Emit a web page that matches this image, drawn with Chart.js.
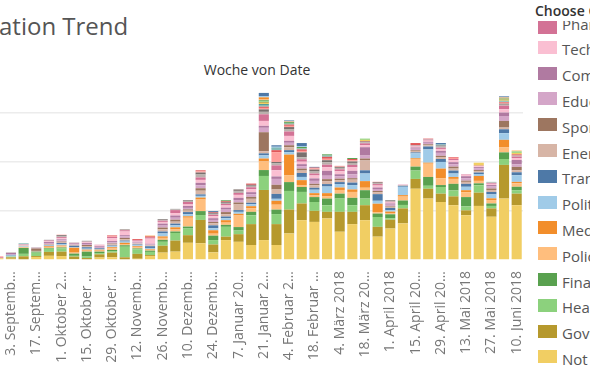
<!DOCTYPE html>
<html>
<head>
<meta charset="utf-8">
<script src="https://cdn.jsdelivr.net/npm/chart.js@4"></script>
<style>
  html, body { margin: 0; padding: 0; width: 590px; height: 369px; overflow: hidden; background: #fff; font-family: "Open Sans", sans-serif; }
  #title { position: absolute; left: -1px; top: 14px; font-size: 24px; line-height: 24px; color: #555; white-space: nowrap; }
  #header { position: absolute; left: 157px; width: 200px; text-align: center; top: 63px; font-size: 14px; line-height: 14px; color: #333; }
  #wrap { position: absolute; left: -8px; top: 88px; }
  #legend { position: absolute; left: 535px; top: 0; width: 120px; height: 369px; }
  #legend .head { position: absolute; left: 0; top: 0; width: 100%; height: 21px; background: #fff; z-index: 2; }
  #legend .head span { position: absolute; left: 0; top: 4px; font-size: 14px; line-height: 14px; font-weight: 600; color: #333; white-space: nowrap; }
  #legend .box { position: absolute; left: 3px; width: 19px; height: 13px; }
  #legend .txt { position: absolute; left: 27px; font-size: 15px; line-height: 15px; color: #555; white-space: nowrap; }
</style>
</head>
<body>
<div id="title">ation Trend</div>
<div id="header">Woche von Date</div>
<div id="wrap"><canvas id="myChart" width="531" height="280"></canvas></div>
<div id="legend"><div class="head"><span>Choose Category</span></div></div>
<script>
(function () {
  'use strict'

  // weeks (Woche von Date)
  var weeks = ['27.08.2017', '03.09.2017', '10.09.2017', '17.09.2017', '24.09.2017', '01.10.2017', '08.10.2017',
    '15.10.2017', '22.10.2017', '29.10.2017', '05.11.2017', '12.11.2017', '19.11.2017', '26.11.2017',
    '03.12.2017', '10.12.2017', '17.12.2017', '24.12.2017', '31.12.2017', '07.01.2018', '14.01.2018',
    '21.01.2018', '28.01.2018', '04.02.2018', '11.02.2018', '18.02.2018', '25.02.2018', '04.03.2018',
    '11.03.2018', '18.03.2018', '25.03.2018', '01.04.2018', '08.04.2018', '15.04.2018', '22.04.2018',
    '29.04.2018', '06.05.2018', '13.05.2018', '20.05.2018', '27.05.2018', '03.06.2018', '10.06.2018']

  // labels shown on every second week, starting with 3 Sep
  var tickLabels = ['3. Septemb…', '17. Septem…', '1. Oktober 2…', '15. Oktober …', '29. Oktober …',
    '12. Novemb…', '26. Novemb…', '10. Dezemb…', '24. Dezemb…', '7. Januar 20…', '21. Januar 2…',
    '4. Februar 2…', '18. Februar …', '4. März 2018', '18. März 20…', '1. April 2018', '15. April 20…',
    '29. April 20…', '13. Mai 2018', '27. Mai 2018', '10. Juni 2018']

  // series, bottom of stack first
  var notClassified = [0.7, 0.5, 0.3, 1.2, 1.7, 1.6, 0.4, 0.3, 1.0, 1.1,
    0.3, 0.5, 1.6, 3.0, 3.4, 7.0, 6.8, 3.1, 8.1, 7.4,
    6.1, 8.1, 6.1, 10.8, 16.2, 15.5, 16.9, 11.5, 14.6, 16.2,
    9.5, 12.8, 14.9, 29.0, 25.0, 23.6, 22.3, 18.2, 22.0, 17.6,
    25.0, 22.3]
  var government = [0, 0.6, 1.2, 0.4, 1.6, 1.8, 1.0, 0.5, 1.3, 1.9,
    0.8, 2.0, 0.4, 2.8, 4.5, 3.1, 9.5, 3.2, 1.4, 3.1,
    8.5, 20.4, 8.5, 9.7, 6.8, 4.5, 2.7, 8.1, 5.0, 6.1,
    4.0, 3.6, 6.1, 4.0, 4.0, 3.4, 3.6, 2.0, 5.4, 3.4,
    13.7, 4.7]
  var health = [0, 0.3, 1.0, 1.4, 1.3, 1.3, 0.3, 0.6, 0.5, 0.6,
    4.3, 1.8, 1.3, 1.6, 3.1, 2.7, 2.0, 1.8, 4.0, 1.5,
    3.6, 5.7, 4.1, 7.6, 4.7, 3.6, 2.7, 5.4, 2.7, 2.7,
    4.0, 0.6, 1.4, 3.4, 1.2, 2.7, 2.4, 1.6, 3.0, 1.0,
    2.4, 1.4]
  var finance = [0, 0, 2.4, 0.4, 0.3, 0.4, 0.9, 2.0, 0.6, 0.5,
    0.6, 0.4, 0.5, 0.8, 0.6, 0.8, 1.6, 1.8, 0.8, 1.4,
    1.4, 2.4, 1.8, 3.6, 2.0, 2.0, 2.7, 2.0, 3.0, 3.4,
    1.4, 1.6, 1.8, 1.6, 3.6, 0.8, 2.7, 3.8, 0.8, 1.0,
    2.7, 1.4]
  var police = [0, 0, 0.3, 0, 0.4, 0.5, 0.4, 0.4, 0.4, 0.6,
    0.5, 0.4, 0.4, 0.8, 0.8, 3.6, 4.7, 0.8, 0.9, 4.7,
    1.5, 3.5, 2.0, 2.7, 0.8, 0.8, 1.0, 1.5, 2.4, 1.0,
    0.6, 0.5, 1.6, 3.1, 5.4, 2.7, 2.0, 2.0, 1.0, 1.4,
    2.0, 1.4]
  var media = [0, 0, 0, 0, 0.3, 0.3, 2.0, 0.4, 0.4, 0.5,
    0.5, 0.5, 0.3, 0.6, 0.9, 0.6, 0.8, 1.4, 1.0, 0.7,
    0.8, 1.2, 1.6, 8.5, 2.0, 0.8, 1.2, 1.0, 1.0, 2.7,
    3.4, 0.6, 0.6, 0.3, 0.4, 4.0, 0.8, 0.8, 2.0, 0.7,
    3.1, 0.6]
  var politics = [0, 0.4, 0.3, 0, 0.3, 0.5, 0.3, 0.4, 0.3, 0.4,
    0.5, 0.4, 0.4, 1.2, 0.8, 0.8, 0.7, 0.8, 0.8, 0.8,
    0.8, 1.3, 0.8, 1.0, 1.3, 1.4, 2.7, 1.4, 1.8, 3.1,
    1.2, 0.6, 3.4, 2.0, 5.4, 2.7, 1.4, 1.4, 0.8, 1.6,
    2.7, 2.7]
  var transport = [0, 0.3, 0, 0, 0.2, 0.5, 0.5, 0.6, 0.3, 0.3,
    0.4, 0.3, 0.7, 0.8, 0.7, 0.9, 0.6, 1.2, 0.7, 0.7,
    0.6, 0.8, 2.0, 0.8, 1.6, 0.8, 1.0, 0.8, 1.0, 1.3,
    2.7, 0.9, 0.4, 0.4, 1.2, 1.2, 1.2, 1.2, 0.6, 1.0,
    1.6, 1.2]
  var energy = [0, 0, 0.4, 0.3, 0.4, 0.4, 0.4, 0.5, 0, 0.5,
    0.6, 0.4, 0.4, 0.9, 0.8, 0.6, 1.5, 0.8, 0.9, 2.3,
    1.6, 0.9, 1.8, 1.2, 1.0, 1.0, 1.2, 0.8, 1.2, 4.0,
    0.8, 0.5, 0.2, 0.6, 0.5, 0.8, 0.8, 0.8, 0.6, 0.8,
    0.7, 0.8]
  var sports = [0, 0, 0, 1.0, 0, 0.2, 0, 0.4, 0, 0.3,
    0.5, 0, 0, 0.7, 0.8, 0.5, 1.0, 0.6, 0.9, 0.8,
    0.8, 7.7, 1.9, 0.8, 0.8, 0.6, 0.8, 0.6, 0.6, 0.8,
    0.5, 0.3, 0, 0.3, 0.4, 0.5, 0.8, 0.5, 0.4, 0.6,
    2.7, 1.4]
  var education = [0, 0.3, 0, 0.3, 0.4, 0.5, 0.3, 0.4, 0.5, 0.5,
    0.6, 0.4, 0.3, 0.8, 0.8, 0.6, 1.2, 0.8, 1.0, 1.0,
    1.0, 1.8, 2.4, 1.0, 1.0, 1.2, 1.4, 1.0, 1.6, 1.2,
    0.8, 0.5, 0.2, 0.6, 0.6, 1.2, 1.0, 1.0, 0.8, 0.8,
    2.0, 1.0]
  var commerce = [0, 0.5, 0, 0, 0.4, 0.4, 0.3, 0.4, 0.3, 0.5,
    0.5, 0.3, 0.3, 0.8, 0.9, 0.8, 1.0, 0.7, 0.8, 0.9,
    0.9, 0.8, 1.0, 0.8, 0.8, 1.0, 2.0, 0.8, 1.4, 3.4,
    0.6, 0.5, 0, 0.5, 0.4, 0.8, 0.8, 0.8, 0.4, 0.6,
    1.4, 1.8]
  var technology = [0, 0, 0.3, 0, 0.3, 0.5, 0.2, 0.3, 0.4, 1.2,
    1.5, 0.4, 2.1, 0.7, 1.0, 0.6, 1.2, 0.8, 0.9, 1.2,
    1.2, 2.0, 2.5, 2.0, 1.0, 1.2, 1.5, 1.2, 1.4, 0.8,
    0.8, 0.4, 0.2, 0.4, 0.5, 0.8, 0.8, 0.6, 0.4, 0.5,
    1.4, 0.8]
  var pharma = [0.4, 0, 0.2, 0, 0.3, 0.4, 0, 0.2, 0.2, 0.5,
    0.5, 0.3, 0.4, 0.5, 1.2, 1.0, 1.0, 0.6, 0.6, 0.8,
    0.8, 2.7, 2.0, 1.8, 1.0, 0.8, 1.0, 0.8, 1.0, 0.8,
    0.6, 0.3, 0, 0.3, 0.4, 0.5, 0.5, 0.2, 0.2, 0.3,
    1.4, 0.6]
  // categories above the visible part of the legend
  var other1 = [0, 0.2, 0, 0.2, 0.1, 0.4, 0.2, 0.2, 0, 0,
    0.5, 0, 0, 0.3, 0.3, 0.4, 1.2, 0.4, 0.4, 0.6,
    0.6, 1.0, 0.8, 1.0, 0.8, 0.8, 1.0, 0.6, 0.8, 0.4,
    0.4, 0.3, 0, 0.3, 0.2, 0.5, 0, 0, 0, 0.3,
    0.4, 0.4]
  var other2 = [0, 0, 0, 0, 0.2, 0.4, 0, 0.2, 0, 0,
    0, 0, 0, 0.3, 0.2, 0.3, 0.8, 0.4, 0.3, 0.5,
    0.4, 1.0, 0.6, 0.8, 2.0, 0.8, 0.8, 0.4, 0.6, 0.3,
    0.3, 0.3, 0, 0, 0, 0.4, 0, 0, 0, 0,
    0.4, 0]
  var other3 = [0.4, 0, 0, 0, 0, 0.2, 0, 0, 0, 0.3,
    0, 0, 0, 0, 0, 0, 0.5, 0, 0, 0,
    0, 0.6, 4.0, 0.5, 0.6, 0.5, 0.6, 0.2, 0.5, 0,
    0, 0, 0, 0, 0, 0, 0.5, 0, 0, 0,
    0.4, 0]
  var other4 = [0, 0, 0, 0, 0, 0, 0, 0, 0, 0.3,
    0, 0.4, 0.5, 0, 0, 0, 0.4, 0.3, 0.4, 0.2,
    0.5, 0.5, 0.8, 0.5, 0.6, 0.3, 0.8, 0.2, 0.5, 0.2,
    0.2, 0, 0, 0.8, 0.2, 0, 0.3, 0, 0, 0,
    0.3, 0.5]
  var other5 = [0, 0, 0.4, 0, 0, 0, 0, 0, 0, 0,
    0, 0, 0, 0, 0, 0, 0, 0, 0, 0.3,
    0, 0.7, 0.6, 0.4, 0.4, 0, 0.5, 0, 0, 0,
    0, 0, 0, 0, 0, 0.4, 0, 0, 0, 0.2,
    0.3, 0]
  var other6 = [0, 0, 0, 0, 0, 0, 0, 0, 0, 0,
    0, 0, 0, 0, 0, 0, 0, 0, 0, 0,
    0, 0.4, 0.4, 0, 0, 0, 0, 0, 0, 0,
    0, 0, 0, 0, 0, 0, 0, 0, 0, 0,
    0.2, 0]
  var other7 = [0, 0, 0, 0, 0, 0, 0, 0, 0, 0,
    0, 0, 0, 0, 0, 0, 0, 0, 0, 0,
    0, 0.4, 0, 0, 0, 0, 0, 0, 0, 0.5,
    0, 0, 0, 0, 0, 0, 0, 0, 1.2, 0,
    0.3, 0.6]
  var other8 = [0, 0, 0, 0, 0, 0, 0, 0, 0, 0,
    0, 0, 0, 0, 0, 0, 0, 0, 0, 0,
    0, 0.3, 0, 0, 0, 0, 0, 0, 0, 0,
    0, 0, 0, 0, 0, 0, 0, 0, 0, 0,
    0.2, 0]
  var other9 = [0, 0, 0, 0, 0, 0, 0, 0, 0, 0,
    0, 0, 0, 0, 0, 0, 0, 0, 0, 0,
    0, 0.4, 0, 0, 0, 0, 0, 0, 0, 0.5,
    0, 0, 0, 0, 0, 0, 0, 0, 0, 0,
    0.2, 0.6]
  var other10 = [0, 0, 0, 0, 0, 0, 0, 0, 0, 0,
    0, 0, 0, 0, 0, 0, 0, 0, 0.4, 0,
    0, 0.4, 0, 0.6, 0.6, 0, 0.5, 0, 0.4, 0,
    0, 0, 0, 0, 0, 0, 0, 0, 0, 0,
    0.2, 0]
  var other11 = [0, 0, 0, 0, 0, 0, 0, 0, 0, 0,
    0, 0, 0, 0, 0, 0, 0, 0, 0, 0,
    0, 0.3, 0, 0.3, 0, 0, 0, 0, 0, 0,
    0, 0, 0, 0, 0, 0, 0, 0, 0, 0,
    0.2, 0.4]
  var other12 = [0, 0, 0, 0, 0, 0, 0, 0, 0, 0,
    0, 0, 0.3, 0, 0, 0, 0, 0, 0, 0,
    0, 0.9, 0, 0, 0, 0, 0, 0, 0, 0,
    0, 0, 0, 0, 0, 0, 0, 0, 0, 0,
    0.2, 0]
  var other13 = [0, 0, 0, 0, 0, 0, 0, 0, 0, 0,
    0, 0, 0, 0, 0, 0, 0, 0, 0, 0,
    0, 0.5, 0.4, 0, 0.4, 0, 0, 0, 0, 0,
    0, 0, 0, 0, 0, 0, 0, 0, 0, 0,
    0.2, 0]
  var other14 = [0, 0, 0, 0, 0, 0, 0, 0, 0, 0,
    0, 0, 0, 0, 0, 0, 0, 0.4, 0, 0,
    0, 1.3, 0.6, 0.4, 1.2, 0.3, 0, 0, 0, 0,
    0, 0, 0, 0, 0, 0.6, 0, 0, 0, 0,
    0.3, 0]

  var series = [
    { label: 'Not classified', data: notClassified, color: '#F1CE63' },
    { label: 'Government', data: government, color: '#B6992D' },
    { label: 'Health', data: health, color: '#8CD17D' },
    { label: 'Finance', data: finance, color: '#59A14F' },
    { label: 'Police', data: police, color: '#FFBE7D' },
    { label: 'Media', data: media, color: '#F28E2B' },
    { label: 'Politics', data: politics, color: '#A0CBE8' },
    { label: 'Transport', data: transport, color: '#4E79A7' },
    { label: 'Energy', data: energy, color: '#D7B5A6' },
    { label: 'Sports', data: sports, color: '#9D7660' },
    { label: 'Education', data: education, color: '#D4A6C8' },
    { label: 'Commerce', data: commerce, color: '#B07AA1' },
    { label: 'Technology', data: technology, color: '#FABFD2' },
    { label: 'Pharma', data: pharma, color: '#D37295' },
    { label: 'Other 1', data: other1, color: '#BAB0AC' },
    { label: 'Other 2', data: other2, color: '#79706E' },
    { label: 'Other 3', data: other3, color: '#FF9D9A' },
    { label: 'Other 4', data: other4, color: '#E15759' },
    { label: 'Other 5', data: other5, color: '#86BCB6' },
    { label: 'Other 6', data: other6, color: '#499894' },
    { label: 'Other 7', data: other7, color: '#F1CE63' },
    { label: 'Other 8', data: other8, color: '#B6992D' },
    { label: 'Other 9', data: other9, color: '#8CD17D' },
    { label: 'Other 10', data: other10, color: '#59A14F' },
    { label: 'Other 11', data: other11, color: '#FFBE7D' },
    { label: 'Other 12', data: other12, color: '#F28E2B' },
    { label: 'Other 13', data: other13, color: '#A0CBE8' },
    { label: 'Other 14', data: other14, color: '#4E79A7' }
  ]

  // legend (visible part, scrolled)
  var legend = document.getElementById('legend')
  series.slice(0, 14).reverse().forEach(function (s, k) {
    var top = 15 + 25.8 * k
    var boxTop = k === 0 ? 21 : top
    var box = document.createElement('div')
    box.className = 'box'
    box.style.top = boxTop + 'px'
    box.style.background = s.color
    var txt = document.createElement('div')
    txt.className = 'txt'
    txt.style.top = (top + 1.5) + 'px'
    txt.textContent = s.label
    legend.appendChild(box)
    legend.appendChild(txt)
  })

  var ctx = document.getElementById('myChart')
  var config = {
    type: 'bar',
    data: {
      labels: weeks,
      datasets: series.map(function (s) {
        return {
          label: s.label,
          data: s.data,
          backgroundColor: s.color,
          borderWidth: 0,
          categoryPercentage: 1.0,
          barPercentage: 0.8
        }
      })
    },
    options: {
      responsive: false,
      animation: false,
      layout: { padding: 0 },
      scales: {
        x: {
          stacked: true,
          grid: { display: false },
          border: { display: false },
          ticks: {
            autoSkip: false,
            minRotation: 90,
            maxRotation: 90,
            padding: 3,
            color: '#777',
            font: { family: 'Open Sans', size: 14 },
            callback: function (value, index) {
              return index % 2 === 1 ? tickLabels[(index - 1) / 2] : ''
            }
          },
          afterFit: function (scale) {
            scale.height = 108
            scale.paddingLeft = 0
            scale.paddingRight = 0
          }
        },
        y: {
          stacked: true,
          min: 0,
          max: 70,
          ticks: { display: false, stepSize: 20 },
          border: { display: false },
          grid: {
            drawTicks: false,
            lineWidth: 1.5,
            color: function (c) {
              return c.tick && c.tick.value > 0 && c.tick.value % 20 === 0 ? '#ececec' : 'rgba(0,0,0,0)'
            }
          },
          afterFit: function (scale) {
            scale.width = 0
            scale.paddingTop = 0
            scale.paddingBottom = 0
          }
        }
      },
      plugins: {
        legend: { display: false },
        tooltip: { enabled: false }
      }
    }
  }
  var barChart = new Chart(ctx, config)
})()
</script>
</body>
</html>
